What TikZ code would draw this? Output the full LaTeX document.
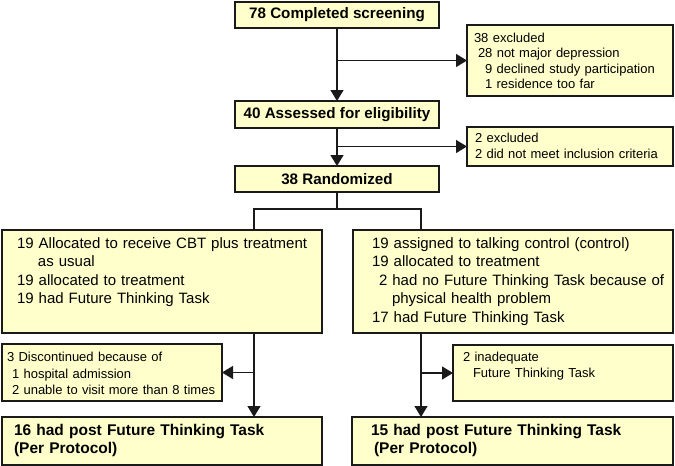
\documentclass[tikz,border=0pt]{standalone}
\usepackage{fontspec}
\setmainfont{Liberation Sans}
\usetikzlibrary{arrows.meta}
\definecolor{boxfill}{HTML}{FFFFCC}
\definecolor{boxline}{HTML}{1A1A1A}
\newcommand\myind[1]{\hspace*{#1pt}}
\begin{document}
\begin{tikzpicture}[x=1pt,y=-1pt,
  box/.style={draw=boxline, line width=2pt, fill=boxfill, inner sep=0pt, outer sep=0pt},
  headbox/.style={box, font=\bfseries\fontsize{15.2}{18}\selectfont, minimum width=204pt},
  listbox/.style={box, anchor=north west, align=left, inner xsep=0pt, inner ysep=0pt},
  smalltext/.style={font=\fontsize{13}{#1}\selectfont},
  conn/.style={line width=1.3pt, draw=boxline},
  arr/.style={conn, -{Triangle[length=11pt,width=13pt]}}]
\useasboundingbox (0,0) rectangle (675,466);

\node[headbox, minimum height=26.5pt] (screen) at (337,15) {78 Completed screening};
\node[headbox, minimum height=27pt] (assess) at (337,114.5) {40 Assessed for eligibility};
\node[headbox, minimum height=26pt] (rand) at (337,179) {38 Randomized};

\node[listbox, smalltext=15.4pt, text width=206pt, text height=17.4pt, text depth=53.6pt] (ex1) at (467,25)
  {\myind{7}38 excluded\\\myind{11}28 not major depression\\\myind{18}9 declined study participation\\\myind{18}1 residence too far};
\node[listbox, smalltext=16pt, text width=206pt, text height=15.7pt, text depth=23.3pt] (ex2) at (467,127)
  {\myind{8}2 excluded\\\myind{8}2 did not meet inclusion criteria};

\node[listbox, font=\fontsize{15}{18.3}\selectfont, text width=320pt, text height=18.4pt, text depth=84.6pt] (L) at (2,230)
  {\myind{15}19 Allocated to receive CBT plus treatment\\\myind{36}as usual\\\myind{15}19 allocated to treatment\\\myind{15}19 had Future Thinking Task};
\node[listbox, font=\fontsize{15}{18.5}\selectfont, text width=320pt, text height=18.4pt, text depth=84.6pt] (R) at (353,230)
  {\myind{19}19 assigned to talking control (control)\\\myind{19}19 allocated to treatment\\\myind{26}2 had no Future Thinking Task because of\\\myind{39}physical health problem\\\myind{19}17 had Future Thinking Task};

\node[listbox, smalltext=16.5pt, text width=220pt, text height=17.7pt, text depth=39.3pt] (d) at (2,344)
  {\myind{5}3 Discontinued because of\\\myind{10}1 hospital admission\\\myind{10}2 unable to visit more than 8 times};
\node[listbox, smalltext=16pt, text width=220pt, text height=16.7pt, text depth=39.3pt] (ri) at (453,345)
  {\myind{10}2 inadequate\\\myind{20}Future Thinking Task};

\node[listbox, font=\bfseries\fontsize{15.5}{18}\selectfont, text width=320pt, text height=18.5pt, text depth=29.5pt] (FL) at (2,417)
  {\myind{12}16 had post Future Thinking Task\\\myind{12}(Per Protocol)};
\node[listbox, font=\bfseries\fontsize{15.5}{18}\selectfont, text width=321pt, text height=18.5pt, text depth=29.5pt] (FR) at (352,417)
  {\myind{19}15 had post Future Thinking Task\\\myind{22}(Per Protocol)};

\coordinate (sL) at (254,209);
\coordinate (sR) at (421,209);

\draw[arr] (screen.south) -- (assess.north);
\draw[arr] (screen.south |- ex1.west) -- (ex1.west);
\draw[arr] (assess.south) -- (rand.north);
\draw[arr] (assess.south |- ex2.west) -- (ex2.west);
\draw[conn] (rand.south) -- (rand.south |- sL);
\draw[conn] (sL |- L.north) -- (sL) -- (sR) -- (sR |- R.north);
\draw[arr] (sL |- L.south) -- (sL |- FL.north);
\draw[arr] (sL |- d.east) -- (d.east);
\draw[arr] (sR |- R.south) -- (sR |- FR.north);
\draw[arr] (sR |- ri.west) -- (ri.west);
\end{tikzpicture}
\end{document}
